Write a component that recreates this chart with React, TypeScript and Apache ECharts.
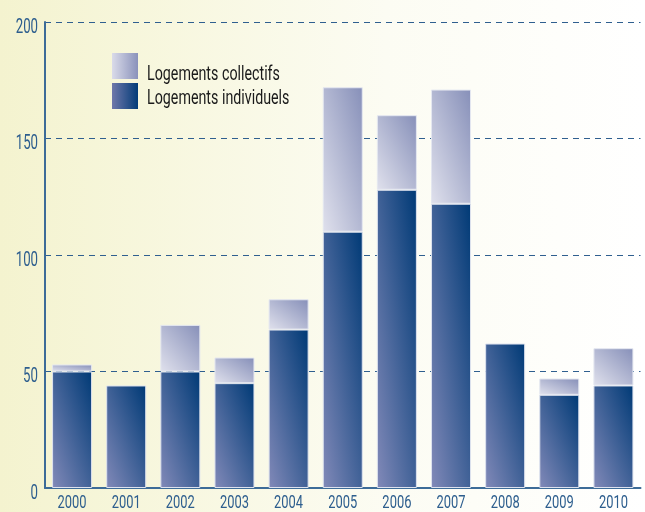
import React, { useEffect, useRef } from "react";
import * as echarts from "echarts";

const years = ["2000", "2001", "2002", "2003", "2004", "2005", "2006", "2007", "2008", "2009", "2010"];
const individuels = [50, 44, 50, 45, 68, 110, 128, 122, 62, 40, 44];
const collectifs = [3, 0, 20, 11, 13, 62, 32, 49, 0, 7, 16];
const yTickLabels = [0, 50, 100, 150, 200];
const legendNames = ["Logements collectifs", "Logements individuels"];

const FONT = "Roboto, 'DejaVu Sans', sans-serif";
const LABEL_COLOR = "#2d5e8e";

export default function App() {
  const ref = useRef<HTMLDivElement>(null);
  useEffect(() => {
    if (!ref.current) return;
    const chart = echarts.init(ref.current, null, { renderer: "svg" });
    const indivGrad = new echarts.graphic.LinearGradient(0, 1, 1, 0, [
      { offset: 0, color: "#8189b8" },
      { offset: 1, color: "#003a76" },
    ]);
    const collGrad = new echarts.graphic.LinearGradient(0, 1, 1, 0, [
      { offset: 0, color: "#dfe0ec" },
      { offset: 1, color: "#8790b9" },
    ]);
    chart.setOption({
      animation: false,
      grid: { left: 45, top: 22, width: 595.5, bottom: 24, containLabel: false },
      xAxis: {
        type: "category",
        data: years,
        axisLine: { lineStyle: { color: "#3d6c98", width: 2 } },
        axisTick: { show: false },
        axisLabel: { show: false },
      },
      yAxis: {
        type: "value",
        min: 0,
        max: 200,
        interval: 50,
        axisLine: { show: true, lineStyle: { color: "#3d6c98", width: 2 } },
        axisTick: { show: false },
        axisLabel: { show: false },
        splitLine: { lineStyle: { color: "#2f5f8f", type: [6, 5], width: 1.2 } },
      },
      series: [
        {
          name: legendNames[1],
          type: "bar",
          stack: "t",
          barWidth: 40,
          data: individuels,
          itemStyle: { color: indivGrad, borderColor: "#dde2ee", borderWidth: 1 },
        },
        {
          name: legendNames[0],
          type: "bar",
          stack: "t",
          barWidth: 40,
          data: collectifs.map((v) => (v === 0 ? null : v)),
          itemStyle: { color: collGrad, borderColor: "#e4e7f0", borderWidth: 1 },
        },
      ],
    });

    const graphics: any[] = [
      {
        type: "rect",
        z: -10,
        silent: true,
        shape: { x: 0, y: 0, width: 645, height: 512 },
        style: {
          fill: new echarts.graphic.LinearGradient(0, 0, 1, 0, [
            { offset: 0, color: "#f4f3cf" },
            { offset: 0.6, color: "#fcfcf3" },
            { offset: 1, color: "#ffffff" },
          ]),
        },
      },
    ];
    // x axis labels (condensed)
    years.forEach((y) => {
      const px = chart.convertToPixel({ xAxisIndex: 0 }, y) as number;
      graphics.push({
        type: "text",
        x: px,
        y: 501.5,
        scaleX: 0.68,
        style: {
          text: y,
          fill: LABEL_COLOR,
          font: `19px ${FONT}`,
          align: "center",
          verticalAlign: "middle",
        },
      });
    });
    // y axis labels (condensed)
    yTickLabels.forEach((v) => {
      const py = chart.convertToPixel({ yAxisIndex: 0 }, v) as number;
      graphics.push({
        type: "text",
        x: 38,
        y: py + 3.5,
        scaleX: 0.63,
        style: {
          text: String(v),
          fill: LABEL_COLOR,
          font: `21px ${FONT}`,
          align: "right",
          verticalAlign: "middle",
        },
      });
    });
    // legend
    const legendGrads = [
      new echarts.graphic.LinearGradient(0, 0, 1, 0, [
        { offset: 0, color: "#dadbe9" },
        { offset: 1, color: "#8a92bb" },
      ]),
      new echarts.graphic.LinearGradient(0, 0, 1, 0, [
        { offset: 0, color: "#6f78aa" },
        { offset: 1, color: "#023b78" },
      ]),
    ];
    legendNames.forEach((name, i) => {
      graphics.push({
        type: "rect",
        shape: { x: 112, y: 53 + i * 30, width: 26, height: 26 },
        style: { fill: legendGrads[i] },
      });
      graphics.push({
        type: "text",
        x: 147,
        y: 72 + i * 24.5,
        scaleX: 0.68,
        style: {
          text: name,
          fill: "#1a1a1a",
          font: `21px ${FONT}`,
          align: "left",
          verticalAlign: "middle",
        },
      });
    });
    chart.setOption({ graphic: graphics });
    return () => chart.dispose();
  }, []);
  return (
    <div
      ref={ref}
      style={{ position: "fixed", left: 0, top: 0, width: 645, height: 512 }}
    />
  );
}
